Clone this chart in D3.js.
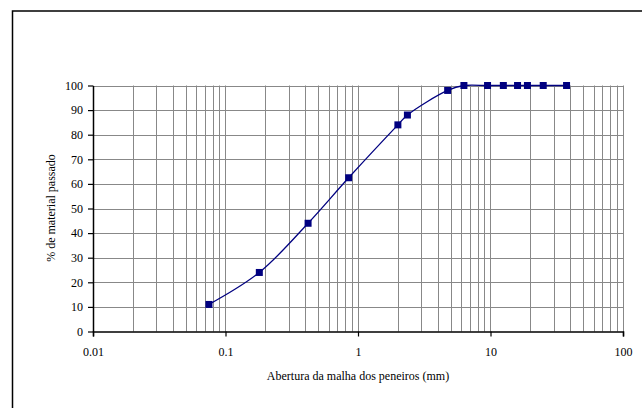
<!DOCTYPE html>
<html>
<head>
<meta charset="utf-8">
<script src="https://cdn.jsdelivr.net/npm/d3@7"></script>
<style>
body{margin:0;background:#fff;}
text{font-family:"Liberation Serif","Times New Roman",serif;fill:#000;}
</style>
</head>
<body>
<script>
// abertura das peneiras (mm) e % passado
var sieves = [0.075, 0.18, 0.42, 0.85, 2, 2.36, 4.75, 6.3, 9.5, 12.5, 16, 19, 25, 37.5];
var passing = [11, 24, 44, 62.5, 84, 88, 98, 100, 100, 100, 100, 100, 100, 100];
var xTicks = [0.01, 0.1, 1, 10, 100];
var yTicks = [0, 10, 20, 30, 40, 50, 60, 70, 80, 90, 100];

var w = 642, h = 408;
var plotL = 93, plotR = 623, plotT = 85.5, plotB = 331.5;

var svg = d3.select("body").append("svg")
	.attr("width", w)
	.attr("height", h);

// moldura exterior
svg.append("rect")
	.attr("x", 12.5).attr("y", 11)
	.attr("width", w + 10).attr("height", h + 10)
	.attr("fill", "none")
	.attr("stroke", "#000")
	.attr("stroke-width", 1.5);

var x = d3.scaleLog().domain([0.01, 100]).range([plotL, plotR]);
var y = d3.scaleLinear().domain([0, 100]).range([plotB, plotT]);

// grelha: linhas verticais em cada 1..9 de cada decada
var gridX = [];
for (var d = -2; d < 2; d++){
	for (var m = 1; m < 10; m++){
		gridX.push(m * Math.pow(10, d));
	}
}
gridX.push(100);

svg.append("g").selectAll("line")
	.data(gridX)
	.enter()
	.append("line")
	.attr("x1", function(d){return Math.round(x(d)) + 0.5})
	.attr("x2", function(d){return Math.round(x(d)) + 0.5})
	.attr("y1", plotT)
	.attr("y2", plotB)
	.attr("stroke", "#888")
	.attr("stroke-width", 1);

svg.append("g").selectAll("line")
	.data(yTicks.slice(1))
	.enter()
	.append("line")
	.attr("x1", plotL)
	.attr("x2", plotR + 0.5)
	.attr("y1", function(d){return Math.round(y(d)) + 0.5})
	.attr("y2", function(d){return Math.round(y(d)) + 0.5})
	.attr("stroke", "#888")
	.attr("stroke-width", 1);

// eixos
var xAxis = d3.axisBottom(x)
	.tickValues(xTicks)
	.tickSize(5)
	.tickFormat(function(d){return String(d)});
var gx = svg.append("g")
	.attr("transform", "translate(0," + plotB + ")")
	.call(xAxis);
gx.select(".domain").attr("stroke", "#000").attr("stroke-width", 1.5);
gx.selectAll(".tick line").attr("stroke", "#000").attr("stroke-width", 1.2);
gx.selectAll(".tick text")
	.attr("y", 16)
	.style("font-family", "Liberation Serif")
	.style("font-size", "12px");

var yAxis = d3.axisLeft(y)
	.tickValues(yTicks)
	.tickSize(5)
	.tickSizeOuter(0);
var gy = svg.append("g")
	.attr("transform", "translate(" + plotL + ",0)")
	.call(yAxis);
gy.select(".domain").attr("stroke", "#000").attr("stroke-width", 1.5);
gy.selectAll(".tick line").attr("stroke", "#000").attr("stroke-width", 1.2);
gy.selectAll(".tick text")
	.attr("x", -10)
	.style("font-family", "Liberation Serif")
	.style("font-size", "12px");

// curva granulometrica
var pts = sieves.map(function(s, i){return [x(s), y(passing[i])]});
var line = d3.line().curve(d3.curveCatmullRom.alpha(0.5));

svg.append("path")
	.attr("d", line(pts))
	.attr("fill", "none")
	.attr("stroke", "#000080")
	.attr("stroke-width", 1.3);

svg.append("g").selectAll("rect")
	.data(pts)
	.enter()
	.append("rect")
	.attr("x", function(d){return d[0] - 3.5})
	.attr("y", function(d){return d[1] - 3.5})
	.attr("width", 7)
	.attr("height", 7)
	.attr("fill", "#000080");

// titulos dos eixos
svg.append("text")
	.attr("x", 358)
	.attr("y", 380)
	.attr("text-anchor", "middle")
	.style("font-size", "12px")
	.text("Abertura da malha dos peneiros (mm)");

svg.append("text")
	.attr("transform", "translate(55,208) rotate(-90)")
	.attr("text-anchor", "middle")
	.style("font-size", "12px")
	.text("% de material passado");
</script>
</body>
</html>
